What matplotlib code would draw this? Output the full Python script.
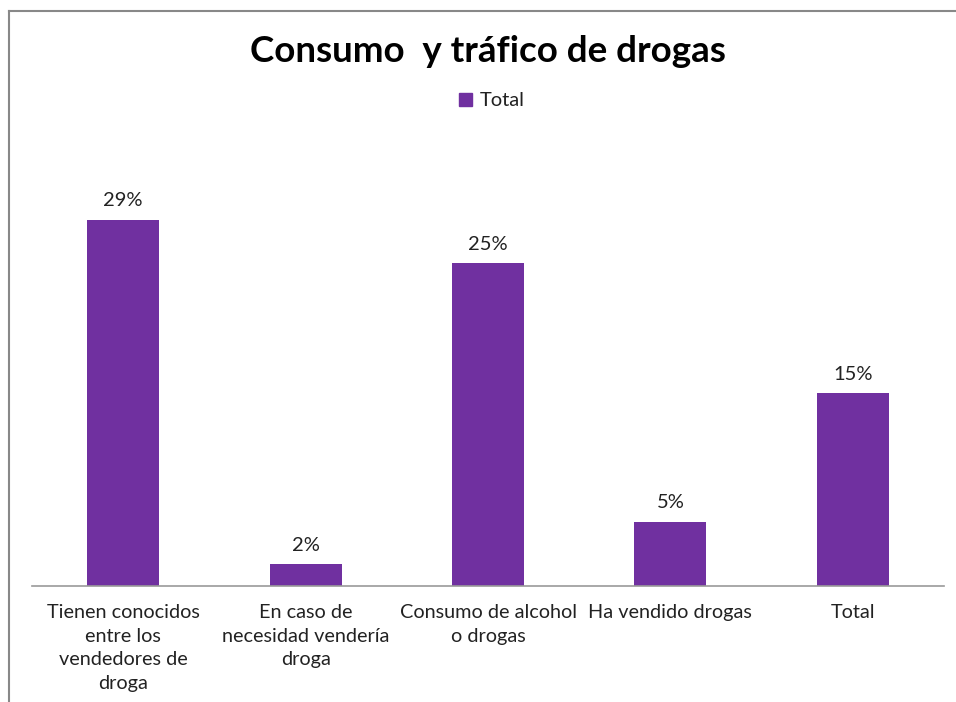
import matplotlib.pyplot as plt
from matplotlib.lines import Line2D
from matplotlib.patches import Patch

# Data
categories = ['Tienen conocidos\nentre los\nvendedores de\ndroga',
              'En caso de\nnecesidad vendería\ndroga',
              'Consumo de alcohol\no drogas',
              'Ha vendido drogas',
              'Total']
values = [0.285, 0.017, 0.251, 0.050, 0.150]
labels = ['29%', '2%', '25%', '5%', '15%']

purple = '#7030A0'
plt.rcParams['font.family'] = ['Lato', 'DejaVu Sans']

fig = plt.figure(figsize=(9.56, 7.02), dpi=100)
ax = fig.add_axes([32 / 956, 116 / 702, 912 / 956, 450 / 702])

x = range(len(categories))
bars = ax.bar(x, values, width=0.395, color=purple)
ax.set_xlim(-0.5, len(categories) - 0.5)
ax.set_ylim(0, 0.35)

for b, lab in zip(bars, labels):
    ax.text(b.get_x() + b.get_width() / 2, b.get_height() + 0.008, lab,
            ha='center', va='bottom', fontsize=14.5, color='#222222')

ax.set_xticks(list(x))
ax.set_xticklabels(categories, fontsize=14.3, color='#222222', linespacing=1.48, va='top')
ax.tick_params(axis='x', length=0, pad=13)
ax.set_yticks([])
for s in ['top', 'right', 'left']:
    ax.spines[s].set_visible(False)
ax.spines['bottom'].set_color('#999999')
ax.spines['bottom'].set_linewidth(1.2)

fig.text(488 / 956, 1 - 51 / 702, 'Consumo  y tráfico de drogas', ha='center', va='center',
         fontsize=26.5, fontweight='bold', color='black')

leg = fig.legend(handles=[Patch(color=purple, label='Total')], loc='center',
                 bbox_to_anchor=(492 / 956, 1 - 101 / 702), frameon=False,
                 fontsize=14.5, handlelength=0.6, handleheight=0.6, handletextpad=0.4)
for t in leg.get_texts():
    t.set_color('#222222')

# chart frame (only the top and left edges are visible)
fig.add_artist(Line2D([8.5 / 956, 8.5 / 956], [0, 1 - 11 / 702], color='#888888', lw=1.5))
fig.add_artist(Line2D([8.5 / 956, 1], [1 - 11 / 702, 1 - 11 / 702], color='#888888', lw=1.5))

fig.savefig('out.png', dpi=100)
